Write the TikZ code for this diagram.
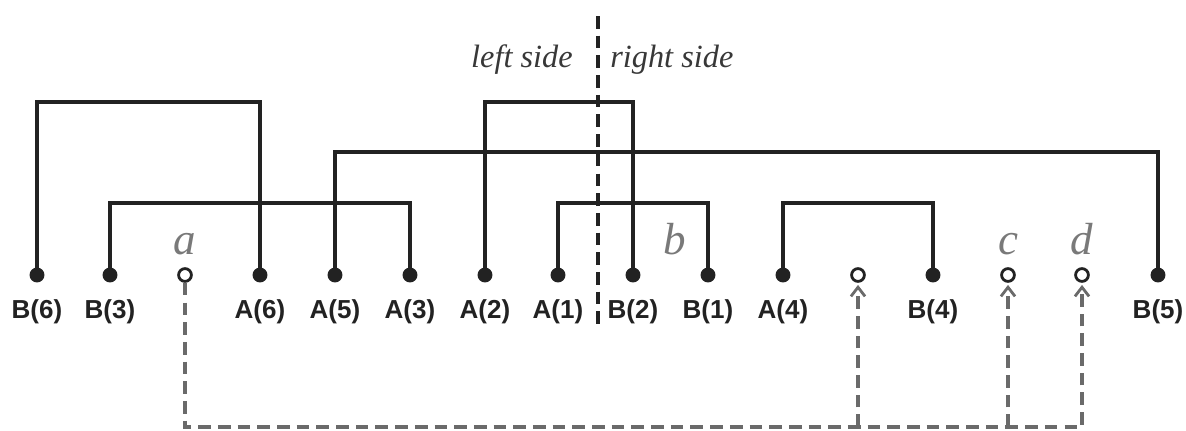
\documentclass[tikz,border=0pt]{standalone}
\usepackage{fontspec}
\setmainfont{Liberation Serif}
\setsansfont{Liberation Sans}
\usepackage{xcolor}
\definecolor{linkBlack}{HTML}{222222}
\definecolor{linkGrey}{HTML}{6A6A6A}
\usetikzlibrary{arrows.meta}

\tikzset{
  dotfull/.style={circle, draw=linkBlack, fill=linkBlack, line width=1.2pt, inner sep=0pt, minimum size=0.33cm},
  dotopen/.style={circle, draw=linkBlack, fill=white, line width=2pt, inner sep=0pt, minimum size=0.32cm},
  ptlabel/.style={font=\fontsize{18.5}{20}\selectfont\sffamily\bfseries, text=linkBlack, inner sep=0pt},
  letter/.style={font=\fontsize{32}{34}\selectfont\itshape, text=linkGrey!90, inner sep=0pt, anchor=base},
  sidetext/.style={font=\fontsize{23}{25}\selectfont\itshape, text=linkBlack!90, inner sep=0pt},
  link/.style={draw=linkBlack, line width=3pt},
  track/.style={draw=linkGrey, line width=2.8pt, dash pattern=on 9pt off 5pt},
  uptip/.style={-{Straight Barb[length=6.5pt, width=10pt, line width=2pt]}, shorten >=1.5pt},
}

\begin{document}
\begin{tikzpicture}[x=0.025cm, y=-0.025cm]
  \useasboundingbox (0,0) rectangle (1186,430);
  % the sixteen points
  \node[dotfull] (B6) at (37,275) {};
  \node[dotfull] (B3) at (110,275) {};
  \node[dotopen] (a) at (185,275) {};
  \node[dotfull] (A6) at (260,275) {};
  \node[dotfull] (A5) at (335,275) {};
  \node[dotfull] (A3) at (410,275) {};
  \node[dotfull] (A2) at (485,275) {};
  \node[dotfull] (A1) at (558,275) {};
  \node[dotfull] (B2) at (633,275) {};
  \node[dotfull] (B1) at (708,275) {};
  \node[dotfull] (A4) at (783,275) {};
  \node[dotopen] (p) at (858,275) {};
  \node[dotfull] (B4) at (933,275) {};
  \node[dotopen] (c) at (1008,275) {};
  \node[dotopen] (d) at (1082,275) {};
  \node[dotfull] (B5) at (1158,275) {};
  % names under the points
  \node[ptlabel] (lB6) at (37,312) {B(6)};
  \node[ptlabel] (lB3) at (110,312) {B(3)};
  \node[ptlabel] (lA6) at (260,312) {A(6)};
  \node[ptlabel] (lA5) at (335,312) {A(5)};
  \node[ptlabel] (lA3) at (410,312) {A(3)};
  \node[ptlabel] (lA2) at (485,312) {A(2)};
  \node[ptlabel] (lA1) at (558,312) {A(1)};
  \node[ptlabel] (lB2) at (633,312) {B(2)};
  \node[ptlabel] (lB1) at (708,312) {B(1)};
  \node[ptlabel] (lA4) at (783,312) {A(4)};
  \node[ptlabel] (lB4) at (933,312) {B(4)};
  \node[ptlabel] (lB5) at (1158,312) {B(5)};
  % letters
  \node[letter] (la) at (185,254) {a};
  \node[letter] (lb) at (675,254) {b};
  \node[letter] (lc) at (1008,254) {c};
  \node[letter] (ld) at (1082,254) {d};
  % side marker
  \coordinate (top) at (598,16);
  \coordinate (bot) at (598,327);
  \draw[linkBlack, line width=2.6pt, dash pattern=on 9pt off 5pt] (top) -- (bot);
  \node[sidetext, anchor=base east] (left) at (573,67) {left side};
  \node[sidetext, anchor=base west] (right) at (610,67) {right side};
  % links between A and B
  \draw[link] (B6) -- (37,102) -| (A6);
  \draw[link] (A2) -- (485,102) -| (B2);
  \draw[link] (A5) -- (335,152) -| (B5);
  \draw[link] (B3) -- (110,203) -| (A3);
  \draw[link] (A1) -- (558,203) -| (B1);
  \draw[link] (A4) -- (783,203) -| (B4);
  % dashed track
  \coordinate (ta) at (185,427);
  \coordinate (tp) at (858,427);
  \coordinate (tc) at (1008,427);
  \coordinate (td) at (1082,427);
  \draw[track, uptip] (a) -- (ta) -- (td) -- (d);
  \draw[track, uptip] (tp) -- (p);
  \draw[track, uptip] (tc) -- (c);
\end{tikzpicture}
\end{document}
